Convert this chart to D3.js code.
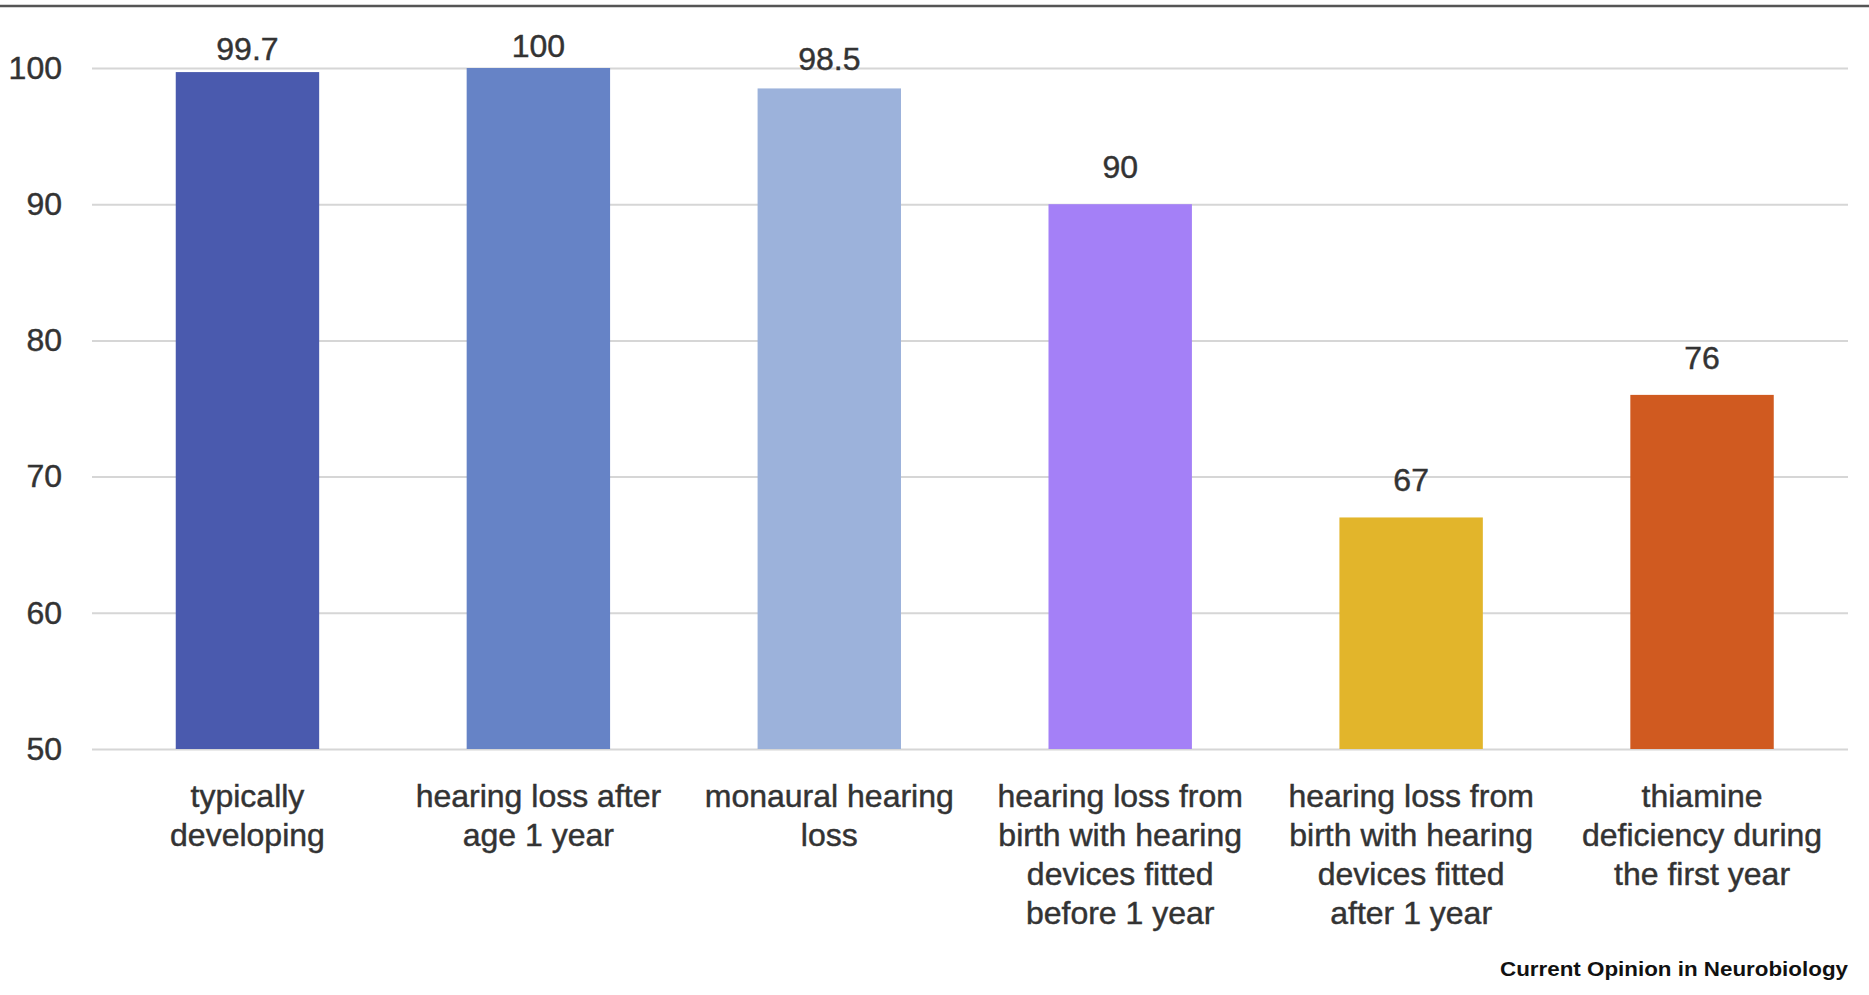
<!DOCTYPE html>
<html>
<head>
<meta charset="utf-8">
<script src="https://cdnjs.cloudflare.com/ajax/libs/d3/7.8.5/d3.min.js"></script>
<style>
  html, body { margin: 0; padding: 0; background: #fff; }
  svg { display: block; }
  text { font-family: "Liberation Sans", Arial, Helvetica, sans-serif; }
</style>
</head>
<body>
<svg id="chart" width="1869" height="995"></svg>
<script>
const categories = [
  "typically\ndeveloping",
  "hearing loss after\nage 1 year",
  "monaural hearing\nloss",
  "hearing loss from\nbirth with hearing\ndevices fitted\nbefore 1 year",
  "hearing loss from\nbirth with hearing\ndevices fitted\nafter 1 year",
  "thiamine\ndeficiency during\nthe first year"
];
const values = [99.7, 100, 98.5, 90, 67, 76];
const valueLabels = ["99.7", "100", "98.5", "90", "67", "76"];
const colors = ["#4a5aae", "#6683c6", "#9cb2db", "#a480f7", "#e2b52b", "#d05a20"];
const yTicks = [50, 60, 70, 80, 90, 100];
const yDomain = [50, 100];
const credit = "Current Opinion in Neurobiology";

const svg = d3.select("#chart");
const W = 1869, H = 995;
const textColor = "#333";

function heavy(sel) {
  return sel.attr("fill", textColor).attr("stroke", textColor).attr("stroke-width", 0.45);
}

// top border rule
svg.append("line")
  .attr("x1", 0).attr("x2", W).attr("y1", 6).attr("y2", 6)
  .attr("stroke", "#555").attr("stroke-width", 2.5);

const gridLeft = 92, gridRight = 1848;
const y = d3.scaleLinear().domain(yDomain).range([749, 68]);
const x = d3.scaleBand().domain(categories).range([102, 1847.5])
  .paddingInner(0.507).paddingOuter(0.2535);

// gridlines
const grid = svg.append("g").attr("transform", `translate(${gridRight},0)`)
  .call(d3.axisLeft(y).tickValues(yTicks).tickSize(gridRight - gridLeft).tickFormat(""));
grid.select(".domain").remove();
grid.selectAll(".tick line").attr("stroke", "#d6d6d6").attr("stroke-width", 2);

// y labels
const yAxis = svg.append("g").attr("transform", `translate(62,0)`)
  .call(d3.axisLeft(y).tickValues(yTicks).tickSize(0).tickPadding(0).tickFormat(d3.format("d")));
yAxis.select(".domain").remove();
heavy(yAxis.selectAll(".tick text")
  .attr("font-size", 32)
  .attr("font-family", "'Liberation Sans', Arial, sans-serif")
  .attr("dy", "0.32em"));

// bars
svg.append("g").selectAll("rect").data(values).join("rect")
  .attr("x", (d, i) => x(categories[i]))
  .attr("y", d => y(d))
  .attr("width", x.bandwidth())
  .attr("height", d => y(yDomain[0]) - y(d))
  .attr("fill", (d, i) => colors[i]);

// value labels
const topY = y(yDomain[1]);
heavy(svg.append("g").selectAll("text").data(values).join("text")
  .attr("x", (d, i) => x(categories[i]) + x.bandwidth() / 2)
  .attr("y", d => { const t = y(d); return t - Math.min(26, 11 + 0.35 * (t - topY)); })
  .attr("text-anchor", "middle")
  .attr("font-size", 32)
  .text((d, i) => valueLabels[i]));

// x labels
const xAxis = svg.append("g").attr("transform", `translate(0,${y(yDomain[0])})`)
  .call(d3.axisBottom(x).tickSize(0).tickFormat(""));
xAxis.select(".domain").remove();
xAxis.selectAll(".tick").each(function(d) {
  const t = heavy(d3.select(this).append("text")
    .attr("text-anchor", "middle")
    .attr("font-size", 32)
    .attr("font-family", "'Liberation Sans', Arial, sans-serif"));
  d.split("\n").forEach((line, j) => {
    t.append("tspan").attr("x", 0).attr("y", 57.5 + j * 39.3).text(line);
  });
});

// credit
svg.append("text")
  .attr("x", 1848).attr("y", 976)
  .attr("text-anchor", "end")
  .attr("font-size", 21).attr("font-weight", "bold").attr("fill", "#111")
  .attr("textLength", 348).attr("lengthAdjust", "spacingAndGlyphs")
  .text(credit);
</script>
</body>
</html>
